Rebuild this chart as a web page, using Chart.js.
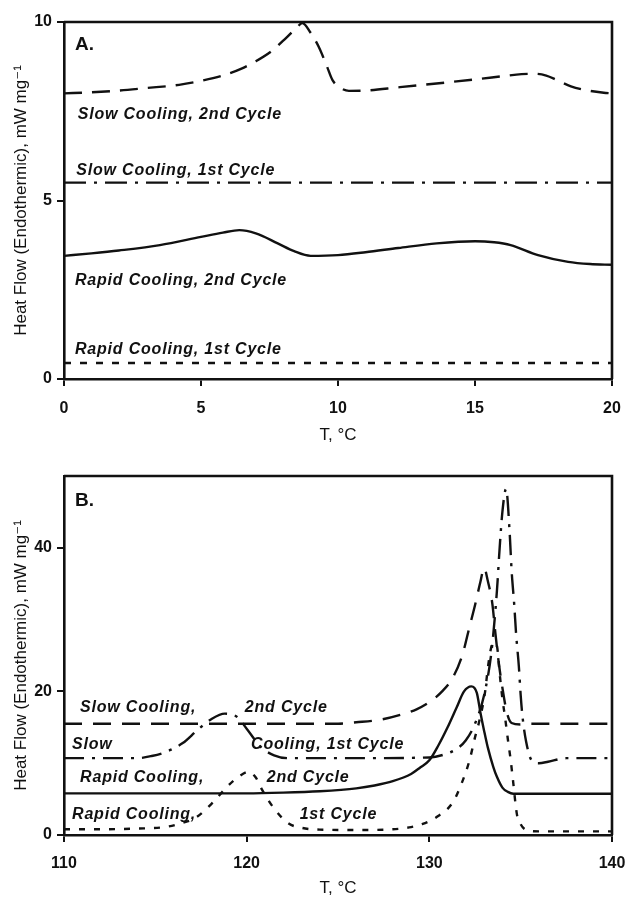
<!DOCTYPE html>
<html>
<head>
<meta charset="utf-8">
<script src="https://cdn.jsdelivr.net/npm/chart.js@4"></script>
<style>
  html, body { margin: 0; padding: 0; background: #ffffff; }
  body { width: 634px; height: 897px; position: relative; overflow: hidden; }
  .panel { position: absolute; left: 0; width: 634px; }
  #pa { top: 0; height: 450px; }
  #pb { top: 450px; height: 447px; }
</style>
</head>
<body>
<div class="panel" id="pa"><canvas id="ca" width="634" height="450"></canvas></div>
<div class="panel" id="pb"><canvas id="cb" width="634" height="447"></canvas></div>
<script>
// ---------- Panel A data (T, °C vs heat flow, mW/mg) ----------
const aSlow2X  = [0, 1, 2, 3, 4.2, 5, 5.8, 6.5, 7.0, 7.6, 8.1, 8.5, 8.7, 9.0, 9.3, 9.6, 9.8, 10.1, 10.4, 11, 12.2, 13.5, 15.1, 16, 16.7, 17.2, 17.6, 18, 18.5, 19, 19.7, 20];
const aSlow2Y  = [8.0, 8.03, 8.08, 8.15, 8.24, 8.35, 8.5, 8.7, 8.9, 9.2, 9.55, 9.85, 9.97, 9.7, 9.3, 8.75, 8.37, 8.15, 8.07, 8.08, 8.17, 8.27, 8.4, 8.48, 8.54, 8.55, 8.5, 8.37, 8.2, 8.1, 8.02, 8.0];
const aSlow1X  = [0, 5, 10, 15, 20];
const aSlow1Y  = [5.5, 5.5, 5.5, 5.5, 5.5];
const aRapid2X = [0, 1, 2, 3.5, 5, 5.8, 6.4, 7.0, 7.8, 8.4, 9.0, 10, 11, 12.2, 13.6, 15, 15.7, 16.3, 17.3, 18.4, 19.2, 20];
const aRapid2Y = [3.45, 3.52, 3.6, 3.75, 3.98, 4.1, 4.17, 4.08, 3.8, 3.58, 3.45, 3.47, 3.55, 3.67, 3.8, 3.86, 3.83, 3.75, 3.47, 3.28, 3.22, 3.2];
const aRapid1X = [0, 5, 10, 15, 20];
const aRapid1Y = [0.45, 0.45, 0.45, 0.45, 0.45];
const aXTicks = [0, 5, 10, 15, 20];
const aYTicks = [0, 5, 10];

// ---------- Panel B data ----------
const bSlow2X  = [110, 115, 120, 125, 126, 127.4, 128.5, 129.3, 130, 130.7, 131.3, 131.8, 132.2, 132.5, 132.8, 133.0, 133.2, 133.45, 133.6, 133.8, 134.0, 134.25, 134.5, 135.0, 135.5, 140];
const bSlow2Y  = [15.5, 15.5, 15.5, 15.5, 15.7, 16.1, 16.8, 17.5, 18.5, 20, 22, 25, 29, 32, 35.3, 37.2, 35.4, 32.2, 28.5, 24, 20.5, 17, 15.6, 15.4, 15.5, 15.5];
const bSlow1X  = [110, 114, 114.8, 115.5, 116.5, 117.3, 118.1, 118.8, 119.5, 120.0, 120.8, 121.5, 122.3, 126, 130, 130.8, 131.5, 132.0, 132.5, 133.0, 133.4, 133.7, 133.85, 134.0, 134.2, 134.4, 134.5, 134.65, 134.75, 134.9, 135.0, 135.1, 135.3, 135.6, 136.0, 136.5, 137.5, 140];
const bSlow1Y  = [10.7, 10.7, 11.0, 11.5, 12.8, 14.6, 16.2, 16.9, 16.4, 14.8, 12.2, 11.1, 10.7, 10.7, 10.8, 11.2, 12.0, 13.2, 15.5, 19.5, 25.5, 34, 40, 45, 48.2, 42, 37, 32, 28, 23.5, 19.5, 16.5, 13, 10.4, 10.0, 10.2, 10.7, 10.7];
const bRapid2X = [110, 116, 120, 122, 124, 126, 127, 128, 129, 129.5, 130, 130.5, 131, 131.5, 131.9, 132.3, 132.6, 132.8, 133.0, 133.2, 133.5, 133.7, 134.0, 134.3, 134.6, 137, 140];
const bRapid2Y = [5.8, 5.8, 5.8, 5.9, 6.1, 6.5, 6.9, 7.5, 8.5, 9.4, 10.4, 12.5, 15, 17.8, 20, 20.7, 19.8, 17, 14.5, 12.2, 9.5, 8.1, 6.6, 6.0, 5.75, 5.75, 5.75];
const bRapid1X = [110, 112, 114, 115.5, 116.5, 117.2, 118.1, 119.0, 119.6, 120.1, 120.5, 120.8, 121.5, 122.3, 123.0, 124, 126, 128, 129, 129.6, 130.4, 131.3, 131.8, 132.2, 132.5, 132.7, 133.05, 133.2, 133.35, 133.5, 133.7, 133.85, 134.0, 134.15, 134.3, 134.45, 134.55, 134.8, 135.0, 135.3, 136, 140];
const bRapid1Y = [0.8, 0.8, 0.9, 1.1, 1.7, 2.4, 4.4, 6.9, 8.2, 8.8, 8.0, 6.5, 3.7, 1.6, 1.0, 0.75, 0.7, 0.8, 1.1, 1.5, 2.5, 4.6, 7.4, 10.4, 13.6, 15.5, 19.9, 23.2, 25.7, 26.8, 26.3, 22.5, 19, 16.3, 13.3, 10.5, 8.3, 2.8, 1.5, 0.7, 0.5, 0.5];
const bXTicks = [110, 120, 130, 140];
const bYTicks = [0, 20, 40];

// ---------- Text ----------
const yTitle = 'Heat Flow (Endothermic), mW mg\u207B\u00B9';
const xTitle = 'T, \u00B0C';
const notesA = [
  { text: 'A.', x: 0.4, y: 9.36, bold: true },
  { text: 'Slow Cooling, 2nd Cycle', x: 0.5, y: 7.4 },
  { text: 'Slow Cooling, 1st Cycle', x: 0.45, y: 5.85 },
  { text: 'Rapid Cooling, 2nd Cycle', x: 0.4, y: 2.77 },
  { text: 'Rapid Cooling, 1st Cycle', x: 0.4, y: 0.82 }
];
const notesB = [
  { text: 'B.', x: 110.6, y: 46.5, bold: true },
  { text: 'Slow Cooling,', x: 110.88, y: 17.8 },
  { text: '2nd Cycle', x: 119.9, y: 17.8 },
  { text: 'Slow', x: 110.44, y: 12.6 },
  { text: 'Cooling, 1st Cycle', x: 120.24, y: 12.6 },
  { text: 'Rapid Cooling,', x: 110.88, y: 8.05 },
  { text: '2nd Cycle', x: 121.1, y: 8.05 },
  { text: 'Rapid Cooling,', x: 110.44, y: 2.9 },
  { text: '1st Cycle', x: 122.9, y: 2.9 }
];

const FONT = '"Liberation Sans", Arial, "DejaVu Sans", sans-serif';
const INK = '#111111';

function pts(xs, ys) { return xs.map((x, i) => ({ x: x, y: ys[i] })); }

function ds(label, xs, ys, dash) {
  return {
    label: label,
    data: pts(xs, ys),
    borderColor: INK,
    borderWidth: 2.4,
    borderDash: dash,
    pointRadius: 0,
    fill: false,
    cubicInterpolationMode: 'monotone',
    borderCapStyle: 'butt'
  };
}

const framePlugin = {
  id: 'frameNotes',
  afterDatasetsDraw(chart, args, opts) {
    const ctx = chart.ctx, a = chart.chartArea, sx = chart.scales.x, sy = chart.scales.y;
    ctx.save();
    ctx.strokeStyle = INK;
    ctx.lineWidth = 2.6;
    ctx.beginPath();
    ctx.moveTo(a.left, a.top);
    ctx.lineTo(a.right, a.top);
    ctx.lineTo(a.right, a.bottom);
    ctx.stroke();
    ctx.fillStyle = INK;
    ctx.textBaseline = 'middle';
    ctx.textAlign = 'left';
    (opts.notes || []).forEach(n => {
      if (n.bold) {
        ctx.font = 'bold 19px ' + FONT;
        ctx.letterSpacing = '0px';
      } else {
        ctx.font = 'italic bold 16px ' + FONT;
        ctx.letterSpacing = '0.8px';
      }
      ctx.fillText(n.text, sx.getPixelForValue(n.x), sy.getPixelForValue(n.y));
    });
    ctx.letterSpacing = '0px';
    ctx.restore();
  }
};

function makeChart(id, datasets, xr, yr, xTicks, yTicks, notes, pad, xh, xTickPad, xTitlePad) {
  return new Chart(document.getElementById(id), {
    type: 'line',
    data: { datasets: datasets },
    plugins: [framePlugin],
    options: {
      responsive: false,
      animation: false,
      devicePixelRatio: 1,
      layout: { padding: pad },
      plugins: { legend: { display: false }, tooltip: { enabled: false }, frameNotes: { notes: notes } },
      scales: {
        x: {
          type: 'linear', min: xr[0], max: xr[1],
          afterBuildTicks: s => { s.ticks = xTicks.map(v => ({ value: v })); },
          afterFit: s => { s.height = xh; s.paddingLeft = 0; s.paddingRight = 0; },
          grid: { drawOnChartArea: false, drawTicks: true, tickLength: 7, color: INK, lineWidth: 2 },
          border: { display: true, color: INK, width: 2.6 },
          ticks: { color: INK, font: { family: FONT, size: 16, weight: 'bold' }, padding: xTickPad, maxRotation: 0 },
          title: { display: true, text: xTitle, color: INK, font: { family: FONT, size: 17, lineHeight: 1 }, padding: { top: 2, bottom: xTitlePad } }
        },
        y: {
          type: 'linear', min: yr[0], max: yr[1],
          afterBuildTicks: s => { s.ticks = yTicks.map(v => ({ value: v })); },
          afterFit: s => { s.width = 64; s.paddingTop = 0; s.paddingBottom = 0; },
          grid: { drawOnChartArea: false, drawTicks: true, tickLength: 7, color: INK, lineWidth: 2 },
          border: { display: true, color: INK, width: 2.6 },
          ticks: { color: INK, font: { family: FONT, size: 16, weight: 'bold' }, padding: 5 },
          title: { display: true, text: yTitle, color: INK, font: { family: FONT, size: 17, lineHeight: 1 }, padding: { top: 13, bottom: 0 } }
        }
      }
    }
  });
}

makeChart('ca', [
  ds('Slow Cooling, 2nd Cycle', aSlow2X, aSlow2Y, [18, 10]),
  ds('Slow Cooling, 1st Cycle', aSlow1X, aSlow1Y, [22, 8, 3, 8]),
  ds('Rapid Cooling, 2nd Cycle', aRapid2X, aRapid2Y, []),
  ds('Rapid Cooling, 1st Cycle', aRapid1X, aRapid1Y, [7, 9])
], [0, 20], [0, 10], aXTicks, aYTicks, notesA, { top: 22, right: 22, left: 0, bottom: 0 }, 71, 13, 6);

makeChart('cb', [
  ds('Slow Cooling, 2nd Cycle', bSlow2X, bSlow2Y, [18, 11]),
  ds('Slow Cooling, 1st Cycle', bSlow1X, bSlow1Y, [20, 8, 3, 8]),
  ds('Rapid Cooling, 2nd Cycle', bRapid2X, bRapid2Y, []),
  ds('Rapid Cooling, 1st Cycle', bRapid1X, bRapid1Y, [6, 9])
], [110, 140], [0, 50], bXTicks, bYTicks, notesB, { top: 26, right: 22, left: 0, bottom: 0 }, 62, 12, 0);
</script>
</body>
</html>
